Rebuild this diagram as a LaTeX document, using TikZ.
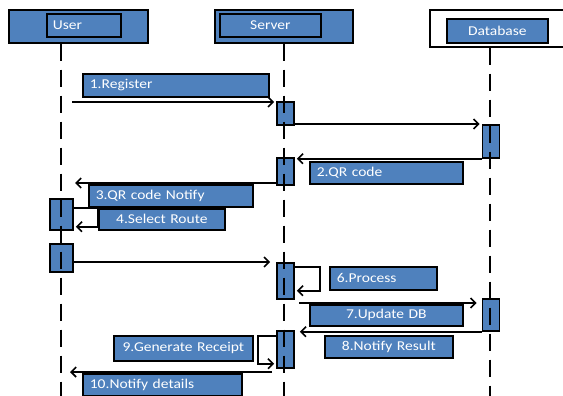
\documentclass[tikz,border=0pt]{standalone}
\usepackage{fontspec}
\setmainfont{Carlito}[FakeStretch=1.15]
\usetikzlibrary{arrows.meta, positioning, calc}
\definecolor{boxblue}{HTML}{4F81BD}
\tikzstyle{head}     = [rectangle, draw=black, line width=1.7pt, fill=boxblue,
                        anchor=north west, inner sep=0pt]
\tikzstyle{msgbox}   = [rectangle, draw=black, line width=1.7pt, fill=boxblue,
                        text=white, anchor=north west, inner ysep=0pt, inner xsep=7pt,
                        font=\fontsize{13.5pt}{15pt}\selectfont]
\tikzstyle{actbox}   = [rectangle, draw=black, line width=1.7pt, fill=boxblue,
                        minimum width=17pt, anchor=north, inner sep=0pt]
\tikzstyle{arrow}    = [-{Straight Barb[length=5pt, width=10pt]}, line width=1.6pt,
                        shorten >=2pt]
\tikzstyle{lifeline} = [line width=2.2pt, dash pattern=on 17pt off 9pt]

\begin{document}
\begin{tikzpicture}[x=1pt, y=-1pt]
  \useasboundingbox (0,0) rectangle (563,396);

  %% headers
  \node[head, minimum width=139pt, minimum height=33pt] (userbox) at (8,9) {};
  \node[head, msgbox, text width=62pt, inner xsep=6pt, minimum height=23pt,
        align=left] (userhd) at (46,13) {User};
  \node[head, minimum width=138pt, minimum height=33pt] (serverbox) at (214,9) {};
  \node[head, msgbox, text width=87pt, minimum height=23pt,
        align=center] (serverhd) at (219,13) {Server};
  \node[head, fill=white, minimum width=140pt, minimum height=37pt] (dbbox) at (429,9) {};
  \node[head, msgbox, text width=87pt, minimum height=24pt,
        align=center] (dbhd) at (446,18) {Database};

  %% activations
  \node[actbox, minimum height=23pt] (sa1) at (285.5,101) {};
  \node[actbox, minimum height=33pt] (da1) at (491,124) {};
  \node[actbox, minimum height=27pt] (sa2) at (285.5,157) {};
  \node[actbox, minimum width=23pt, minimum height=31pt] (ua1) at (61.5,198) {};
  \node[actbox, minimum width=23pt, minimum height=28pt] (ua2) at (61.5,243) {};
  \node[actbox, minimum height=36pt] (sa3) at (285.5,262) {};
  \node[actbox, minimum height=32pt] (da2) at (491,298) {};
  \node[actbox, minimum height=37pt] (sa4) at (285.5,330) {};

  %% lifelines
  \coordinate (uend) at (61,396);
  \coordinate (send) at (284,396);
  \coordinate (dend) at (490,396);
  \draw[lifeline] (userbox.south -| uend) -- (uend);
  \draw[lifeline] (serverbox.south -| send) -- (send);
  \draw[lifeline] (dbbox.south -| dend) -- (dend);

  %% message labels
  \node[msgbox, text width=172pt, minimum height=23pt, align=left] (reg) at (82,73) {1.Register};
  \node[msgbox, text width=139pt, minimum height=22pt, align=left] (qr) at (309,161) {2.QR code};
  \node[msgbox, text width=150pt, minimum height=22pt, align=left] (qrn) at (88,184) {3.QR code Notify};
  \node[msgbox, text width=112pt, minimum height=21pt, align=center] (sel) at (98,208) {4.Select Route};
  \node[msgbox, text width=93pt, minimum height=23pt, align=left] (proc) at (329,266) {6.Process};
  \node[msgbox, text width=139pt, minimum height=21pt, align=center] (upd) at (309,304) {7.Update DB};
  \node[msgbox, text width=114pt, minimum height=22pt, align=center] (res) at (324,335) {8.Notify Result};
  \node[msgbox, text width=125pt, minimum height=25pt, align=center] (gen) at (113,335) {9.Generate Receipt};
  \node[msgbox, text width=145pt, minimum height=22pt, align=left] (det) at (82,373) {10.Notify details};

  %% messages
  \coordinate (m1) at (72,102);
  \draw[arrow] (m1) -- (m1 -| sa1.west);
  \draw[arrow] (da1.north west -| sa1.east) -- (da1.north west);
  \draw[arrow] (da1.south west) -- (da1.south west -| sa2.east);
  \coordinate (m3) at (73,183);
  \draw[arrow] (sa2.west |- m3) -- (m3);
  \draw[arrow] (ua1.east |- qrn.south) -| ($(sel.south west)+(0,-4)$)
    -- ($(ua1.east |- sel.south)+(0,-4)$);
  \draw[arrow, shorten >=6pt] (ua2.east |- sa3.north) -- (sa3.north west);
  \draw[arrow] ($(sa3.east |- proc.north)+(0,1)$) -| ($(proc.south west)+(-9,0)$)
    -- (sa3.east |- proc.south);
  \coordinate (m7) at (299,303);
  \draw[arrow, shorten >=5pt] (m7) -- (m7 -| da2.west);
  \draw[arrow, shorten >=5pt] (da2.south west) -- (da2.south west -| sa4.east);
  \draw[arrow] ($(sa4.west |- gen.north)+(0,1)$) -| ($(gen.south east)+(4,2)$)
    -- ($(sa4.west |- gen.south)+(0,2)$);
  \coordinate (m10) at (272,372);
  \coordinate (u10) at (68,372);
  \draw[arrow] (m10) -- (u10);

\end{tikzpicture}
\end{document}
